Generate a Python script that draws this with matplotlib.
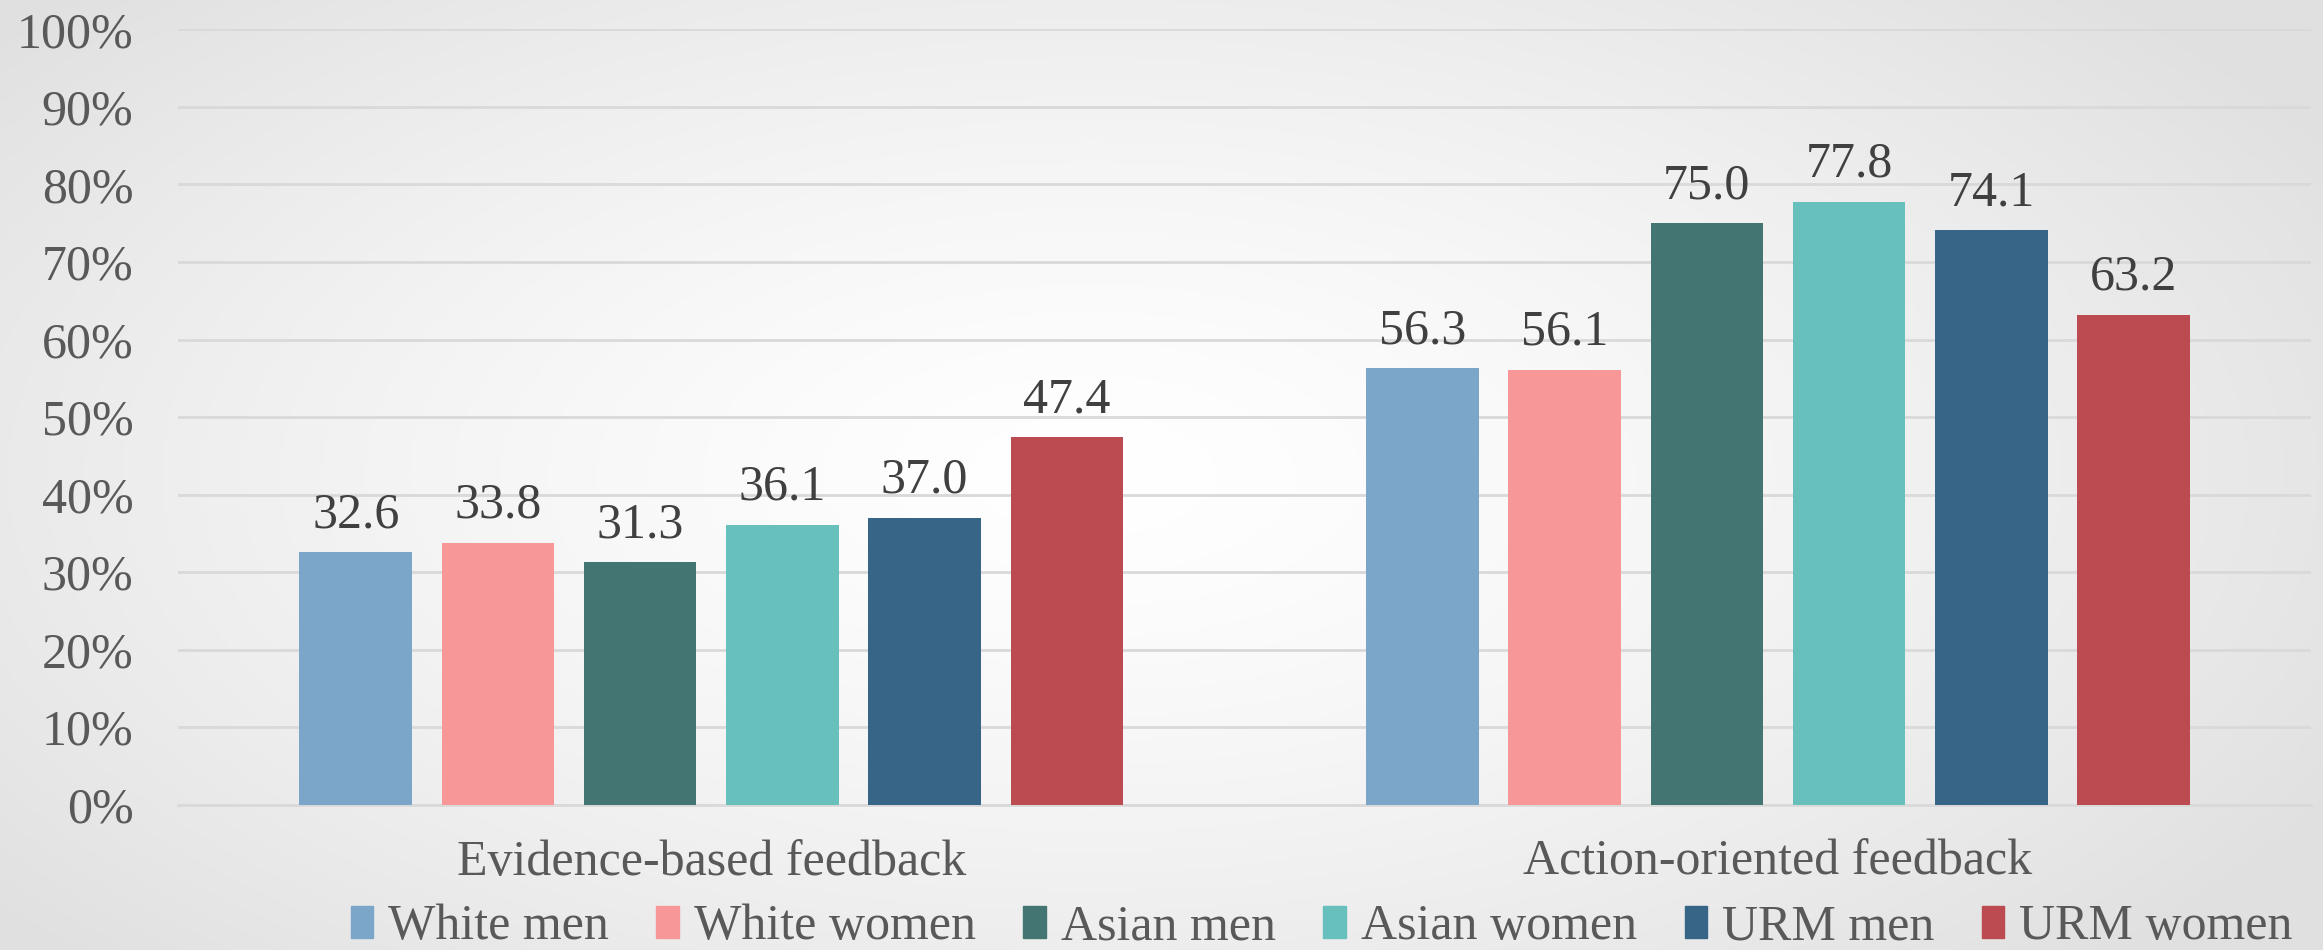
import numpy as np
import matplotlib
matplotlib.use("Agg")
import matplotlib.pyplot as plt
from matplotlib.patches import Patch

categories = ["Evidence-based feedback", "Action-oriented feedback"]
series = ["White men", "White women", "Asian men", "Asian women", "URM men", "URM women"]
white_men = [32.6, 56.3]
white_women = [33.8, 56.1]
asian_men = [31.3, 75.0]
asian_women = [36.1, 77.8]
urm_men = [37.0, 74.1]
urm_women = [47.4, 63.2]
values = [white_men, white_women, asian_men, asian_women, urm_men, urm_women]
colors = ["#7BA6C9", "#F79797", "#437672", "#68C0BD", "#376587", "#BC4A51"]
yticks = [0, 10, 20, 30, 40, 50, 60, 70, 80, 90, 100]

plt.rcParams['font.family'] = ['Liberation Serif', 'DejaVu Serif']
FS = 36

fig = plt.figure(figsize=(23.23, 9.5), dpi=100)

# background radial gradient
bg = fig.add_axes([0, 0, 1, 1], zorder=-10)
yy, xx = np.mgrid[0:1:300j, 0:1:700j]
r = np.sqrt(((xx - 0.47) / 0.75) ** 2 + ((yy - 0.5) / 0.9) ** 2)
g = np.clip(1.0 - 0.16 * r ** 1.4, 0.88, 1.0)
bg.imshow(np.dstack([g, g, g]), aspect='auto', extent=[0, 1, 0, 1], origin='lower')
bg.axis('off')

ax = fig.add_axes([0.0766, 0.153, 0.9184, 0.816])
ax.set_facecolor('none')
x = np.arange(len(categories))
step = 96 / 720
width = 76 / 720
for i, (name, vals, c) in enumerate(zip(series, values, colors)):
    bars = ax.bar(x + (i - 2.5) * step, vals, width, color=c, label=name, zorder=3)
    ax.bar_label(bars, labels=[f"{v:.1f}" for v in vals], padding=10,
                 fontsize=FS, color="#404040")

ax.set_xlim(-0.5, 1.5)
ax.set_ylim(0, 100)
ax.set_yticks(yticks)
ax.set_yticklabels([f"{t}%" for t in yticks])
ax.set_xticks(x)
ax.set_xticklabels(categories)
ax.tick_params(axis='y', length=0, pad=32, labelsize=FS, labelcolor="#595959")
ax.tick_params(axis='x', length=0, pad=25, labelsize=FS, labelcolor="#595959")
ax.grid(axis='y', color="#d9d9d9", linewidth=2, zorder=0)
for s in ['top', 'right', 'left']:
    ax.spines[s].set_visible(False)
ax.spines['bottom'].set_color("#d9d9d9")
ax.spines['bottom'].set_linewidth(2)

handles = [Patch(color=c, label=n) for n, c in zip(series, colors)]
fig.legend(handles=handles, loc='center', bbox_to_anchor=(0.569, 0.024), ncol=6,
           frameon=False, fontsize=FS, labelcolor="#595959",
           handlelength=0.45, handleheight=0.6, handletextpad=0.3,
           columnspacing=0.95, borderpad=0, borderaxespad=0)

fig.savefig("out.png", dpi=100)
